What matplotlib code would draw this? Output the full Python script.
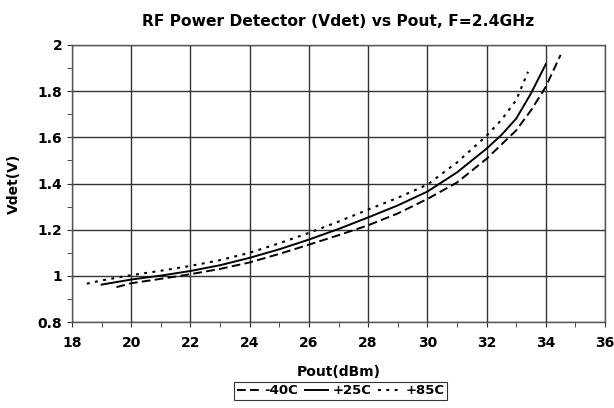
import numpy as np
import matplotlib
matplotlib.use("Agg")
import matplotlib.pyplot as plt
from matplotlib.ticker import MultipleLocator

plt.rcParams['font.family'] = 'DejaVu Sans'
plt.rcParams['font.weight'] = 'bold'

# -40C
pout_m40 = [19.5, 20, 21, 22, 23, 24, 25, 26, 27, 28, 29, 30, 31, 32, 33, 33.5, 34, 34.5]
vdet_m40 = [0.951, 0.968, 0.987, 1.007, 1.030, 1.058, 1.095, 1.135, 1.176, 1.219,
            1.270, 1.333, 1.404, 1.507, 1.630, 1.717, 1.819, 1.957]

# +25C
pout_25 = [19, 20, 21, 22, 23, 24, 25, 26, 27, 28, 29, 30, 31, 32, 32.5, 33, 33.5, 34]
vdet_25 = [0.962, 0.984, 1.001, 1.021, 1.046, 1.078, 1.115, 1.157, 1.203, 1.253,
           1.305, 1.365, 1.448, 1.551, 1.610, 1.681, 1.790, 1.917]

# +85C
pout_85 = [18.5, 19, 20, 21, 22, 23, 24, 25, 26, 27, 28, 29, 30, 31, 32, 32.5, 33, 33.4]
vdet_85 = [0.966, 0.980, 1.003, 1.022, 1.043, 1.068, 1.100, 1.141, 1.186, 1.235,
           1.287, 1.338, 1.395, 1.491, 1.607, 1.675, 1.761, 1.884]

labels = ['-40C', '+25C', '+85C']
ytick_vals = [0.8, 1.0, 1.2, 1.4, 1.6, 1.8, 2.0]
ytick_text = ['0.8', '1', '1.2', '1.4', '1.6', '1.8', '2']

fig = plt.figure(figsize=(6.14, 4.08), dpi=100)
# plot area: x 72..605 px, y 45..322 px
ax = fig.add_axes([72 / 614, 1 - 322 / 408, 533 / 614, 277 / 408])

ax.plot(pout_m40, vdet_m40, color='black', lw=1.4, linestyle=(0, (4.5, 2.2)), label=labels[0])
ax.plot(pout_25, vdet_25, color='black', lw=1.4, linestyle='-', label=labels[1])
ax.plot(pout_85, vdet_85, color='black', lw=1.5, linestyle=(0, (1.4, 2.6)), label=labels[2])

ax.set_xlim(18, 36)
ax.set_ylim(0.8, 2.0)
ax.xaxis.set_major_locator(MultipleLocator(2))
ax.xaxis.set_minor_locator(MultipleLocator(1))
ax.yaxis.set_minor_locator(MultipleLocator(0.1))
ax.set_yticks(ytick_vals)
ax.set_yticklabels(ytick_text)
for lab in ax.get_xticklabels() + ax.get_yticklabels():
    lab.set_fontweight('bold')
    lab.set_fontsize(10)

ax.grid(True, which='major', color='#333333', lw=1)
ax.tick_params(which='both', direction='out', color='#333333', length=3.5)
ax.tick_params(axis='y', pad=3.5)
ax.tick_params(axis='x', pad=6.5)
for s in ax.spines.values():
    s.set_color('#555555')
    s.set_linewidth(1)

ax.set_title('RF Power Detector (Vdet) vs Pout, F=2.4GHz', fontsize=11.2,
             fontweight='bold', pad=14)
ax.set_xlabel('Pout(dBm)', fontsize=10, fontweight='bold', va='top')
ax.xaxis.set_label_coords(0.5, -0.155)
ax.set_ylabel('Vdet(V)', fontsize=10, fontweight='bold')
ax.yaxis.set_label_coords(-0.096, 0.5)

leg = fig.legend(loc='center', bbox_to_anchor=(340.5 / 614, 1 - 391 / 408), ncol=3,
                 prop={'size': 9.5, 'weight': 'bold'}, frameon=True, fancybox=False,
                 edgecolor='black', handlelength=1.8, handletextpad=0.3,
                 columnspacing=0.5, borderpad=0.2)
leg.get_frame().set_linewidth(0.8)

fig.savefig('out.png', dpi=100)
